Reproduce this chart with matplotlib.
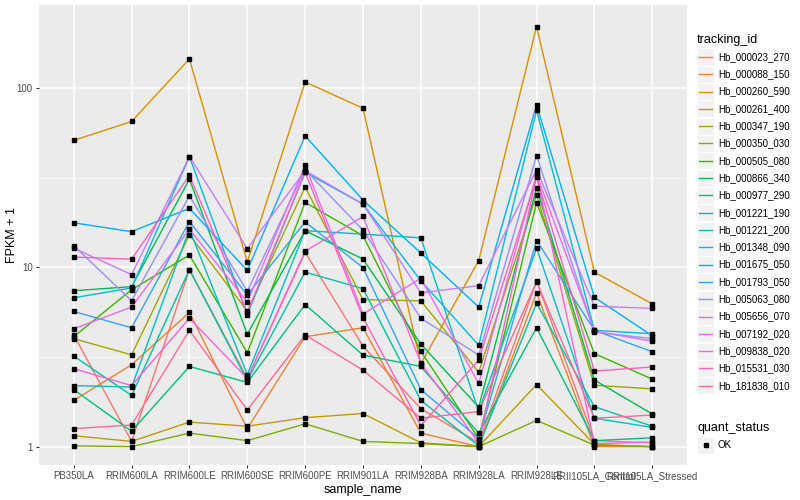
import matplotlib
matplotlib.use('Agg')
import numpy as np
import matplotlib.pyplot as plt
from matplotlib.patches import Rectangle
from matplotlib.lines import Line2D

font = {'family': ['Liberation Sans', 'DejaVu Sans'], 'size': 7}
matplotlib.rc('font', **font)

samples = ['PB350LA', 'RRIM600LA', 'RRIM600LE', 'RRIM600SE', 'RRIM600PE', 'RRIM901LA',
           'RRIM928BA', 'RRIM928LA', 'RRIM928LE', 'RRII105LA_Control', 'RRII105LA_Stressed']

tracking_ids = ['Hb_000023_270', 'Hb_000088_150', 'Hb_000260_590', 'Hb_000261_400',
                'Hb_000347_190', 'Hb_000350_030', 'Hb_000505_080', 'Hb_000866_340',
                'Hb_000977_290', 'Hb_001221_190', 'Hb_001221_200', 'Hb_001348_090',
                'Hb_001675_050', 'Hb_001793_050', 'Hb_005063_080', 'Hb_005656_070',
                'Hb_007192_020', 'Hb_009838_020', 'Hb_015531_030', 'Hb_181838_010']

# FPKM + 1, one row per tracking_id, one column per sample
fpkm = [
    [4.2, 1.07, 9.7, 2.4, 12.1, 3.63, 1.63, 1.05, 8.4, 1.08, 1.05],
    [1.81, 2.86, 5.6, 1.26, 4.1, 4.6, 1.19, 1.0, 7.2, 1.0, 1.0],
    [51, 65, 145, 10.7, 108, 77, 2.9, 10.9, 220, 9.4, 6.25],
    [1.15, 1.07, 1.37, 1.3, 1.45, 1.53, 1.05, 1.0, 2.22, 1.03, 1.0],
    [4.0, 3.25, 15.2, 5.7, 28, 6.6, 6.5, 2.6, 25.4, 2.2, 2.1],
    [1.01, 1.0, 1.19, 1.08, 1.34, 1.07, 1.04, 1.0, 1.4, 1.02, 1.0],
    [4.1, 7.5, 11.7, 3.34, 23, 15.0, 3.4, 1.11, 22.9, 3.3, 2.38],
    [7.4, 7.8, 31, 4.24, 16, 11.1, 3.73, 1.66, 27.8, 2.35, 1.52],
    [2.08, 1.22, 2.8, 2.28, 6.2, 3.24, 2.8, 1.19, 4.6, 1.08, 1.12],
    [3.2, 1.93, 9.7, 2.34, 9.4, 7.6, 1.81, 1.01, 6.3, 1.67, 1.3],
    [2.19, 2.15, 16.3, 2.52, 16.0, 15.3, 14.6, 1.57, 12.8, 1.44, 1.28],
    [6.76, 7.67, 41.4, 5.45, 33.9, 22.5, 8.4, 3.68, 75, 4.45, 4.26],
    [17.7, 15.8, 21.3, 9.6, 54, 23.7, 12, 6.0, 80.5, 6.8, 4.15],
    [5.67, 4.6, 18, 7.0, 17.9, 9.96, 2.08, 1.11, 14.1, 4.45, 3.38],
    [13.2, 6.5, 25, 7.35, 35, 16.1, 5.2, 3.24, 42, 4.35, 4.0],
    [12.8, 9.1, 41.4, 12.7, 34.6, 22.5, 7.2, 7.9, 35, 6.07, 5.9],
    [4.54, 6.0, 16.3, 6.4, 37, 5.48, 8.7, 2.25, 33, 4.4, 3.87],
    [2.72, 2.19, 5.2, 2.4, 12.3, 19.2, 2.92, 1.05, 32.3, 1.04, 1.06],
    [11.4, 11.1, 32.5, 5.6, 33.9, 5.24, 1.31, 3.04, 31.8, 2.64, 2.78],
    [1.26, 1.32, 4.45, 1.6, 4.2, 2.67, 1.44, 1.57, 8.3, 1.44, 1.5],
]


def hue_pal(n, c=100.0, l=65.0):
    """ ggplot2 default discrete palette (polar Luv -> sRGB) """
    M = np.array([[3.2404542, -1.5371385, -0.4985314],
                  [-0.9692660, 1.8760108, 0.0415560],
                  [0.0556434, -0.2040259, 1.0572252]])
    Xn, Yn, Zn = 0.95047, 1.0, 1.08883
    un = 4 * Xn / (Xn + 15 * Yn + 3 * Zn)
    vn = 9 * Yn / (Xn + 15 * Yn + 3 * Zn)
    cols = []
    for h in np.linspace(15, 375, n + 1)[:-1]:
        u = c * np.cos(np.radians(h))
        v = c * np.sin(np.radians(h))
        Y = Yn * ((l + 16) / 116) ** 3
        up = u / (13 * l) + un
        vp = v / (13 * l) + vn
        X = Y * 9 * up / (4 * vp)
        Z = Y * (12 - 3 * up - 20 * vp) / (4 * vp)
        rgb = M @ np.array([X, Y, Z])
        rgb = np.where(rgb <= 0.0031308, 12.92 * rgb, 1.055 * np.abs(rgb) ** (1 / 2.4) - 0.055)
        cols.append(tuple(np.clip(rgb, 0, 1)))
    return cols


colors = hue_pal(len(tracking_ids))

W, H = 800.0, 500.0
fig = plt.figure(figsize=(8, 5), dpi=100)
ax = fig.add_axes([39 / W, 1 - 465 / H, (687 - 39) / W, 460 / H])
ax.set_facecolor('#EBEBEB')
for s in ax.spines.values():
    s.set_visible(False)

x = np.arange(1, len(samples) + 1)
for vals, col in zip(fpkm, colors):
    ax.plot(x, vals, color=col, lw=1.0, zorder=3)
for vals in fpkm:
    ax.plot(x, vals, linestyle='none', marker='s', ms=2.3, color='black', zorder=4)

ax.set_yscale('log')
ax.set_ylim(0.79, 290)
ax.set_xlim(0.4, len(samples) + 0.6)

ax.set_yticks([1, 10, 100])
ax.set_yticklabels(['1', '10', '100'])
ax.set_yticks([10 ** 0.5, 10 ** 1.5], minor=True)
ax.yaxis.set_minor_formatter(plt.NullFormatter())
ax.set_xticks(x)
ax.set_xticklabels(samples)
ax.grid(True, which='major', color='white', lw=1.1, zorder=0)
ax.grid(True, which='minor', axis='y', color='white', lw=0.5, zorder=0)
ax.set_axisbelow(True)
ax.tick_params(which='major', length=2.5, color='#333333', labelcolor='#4D4D4D', labelsize=7, pad=2)
ax.tick_params(which='minor', length=0)
ax.set_xlabel('sample_name', fontsize=9, labelpad=2)
fig.text(12 / W, 1 - 235 / H, 'FPKM + 1', fontsize=9, rotation=90, ha='center', va='center')

# legend drawn by hand, ggplot style
fig.text(697 / W, 1 - 40 / H, 'tracking_id', fontsize=9, va='center')
for i, (name, col) in enumerate(zip(tracking_ids, colors)):
    yc = 57 + i * 17.3
    fig.patches.append(Rectangle((697 / W, 1 - (yc + 8.5) / H), 17 / W, 17 / H,
                                 transform=fig.transFigure, facecolor='#F2F2F2',
                                 edgecolor='white', lw=0.8))
    fig.lines.append(Line2D([699 / W, 712 / W], [1 - yc / H, 1 - yc / H],
                            transform=fig.transFigure, color=col, lw=1.0))
    fig.text(718 / W, 1 - yc / H, name, fontsize=7, va='center')

fig.text(697 / W, 1 - 428 / H, 'quant_status', fontsize=9, va='center')
fig.patches.append(Rectangle((697 / W, 1 - (445 + 8.5) / H), 17 / W, 17 / H,
                             transform=fig.transFigure, facecolor='#F2F2F2',
                             edgecolor='white', lw=0.8))
fig.lines.append(Line2D([705.5 / W], [1 - 445 / H], transform=fig.transFigure,
                        marker='s', ms=2.3, color='black', linestyle='none'))
fig.text(718 / W, 1 - 445 / H, 'OK', fontsize=7, va='center')

fig.savefig('out.png', dpi=100)
